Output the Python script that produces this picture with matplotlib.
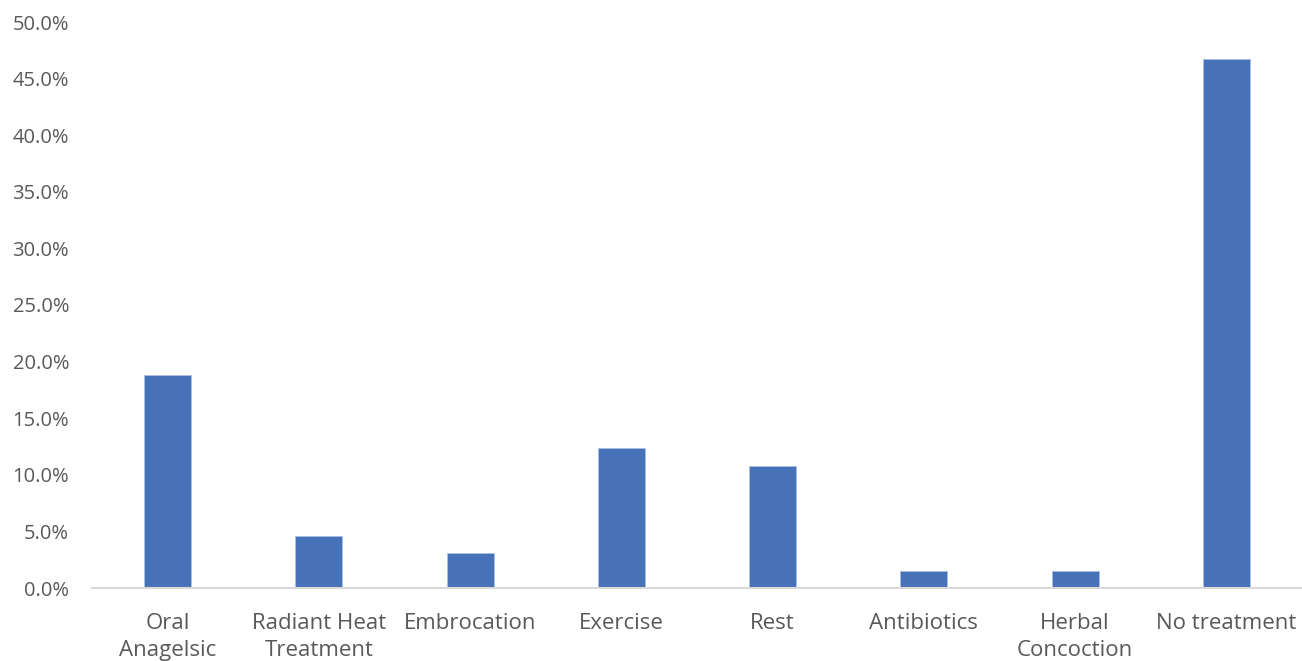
import numpy as np
import matplotlib.pyplot as plt
from matplotlib.ticker import PercentFormatter

plt.rcParams["font.family"] = ["Open Sans", "DejaVu Sans"]
plt.rcParams["font.size"] = 16

categories = ["Oral\nAnagelsic", "Radiant Heat\nTreatment", "Embrocation",
              "Exercise", "Rest", "Antibiotics", "Herbal\nConcoction",
              "No treatment"]
share = [18.8, 4.6, 3.1, 12.4, 10.8, 1.5, 1.5, 46.7]

fig = plt.figure(figsize=(13.02, 6.61), dpi=100)
ax = fig.add_axes([92 / 1302, 1 - 588 / 661, 1 - 92 / 1302, (588 - 22) / 661])

x = np.arange(len(categories))
ax.bar(x, share, width=0.31, color="#4872b8", edgecolor="#a9c0e6", linewidth=0.6)

ax.set_xlim(-0.5, len(categories) - 0.5)
ax.set_ylim(0, 50)
ax.set_yticks(np.arange(0, 51, 5))
ax.yaxis.set_major_formatter(PercentFormatter(decimals=1))
ax.set_xticks(x)
ax.set_xticklabels(categories, linespacing=1.4)

for side in ["top", "right", "left"]:
    ax.spines[side].set_visible(False)
ax.spines["bottom"].set_color("#d9d9d9")
ax.spines["bottom"].set_linewidth(1.5)
ax.tick_params(axis="both", length=0, colors="#595959")
ax.tick_params(axis="x", pad=18, labelsize=16)
ax.tick_params(axis="y", pad=16.5, labelsize=14.5)

fig.savefig("out.png", dpi=100)
